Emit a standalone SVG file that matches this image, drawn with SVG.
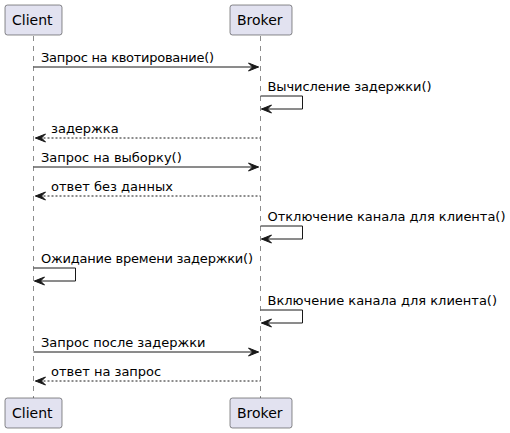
<svg xmlns="http://www.w3.org/2000/svg" width="510" height="433" viewBox="0 0 510 433">
<style>
.box{fill:#E2E2F0;stroke:#181818;stroke-width:0.5}
.life{stroke:#181818;stroke-width:0.5;stroke-dasharray:5,5;fill:none}
.pt{font-family:"DejaVu Sans",sans-serif;font-size:14px;fill:#000}
.mt{font-family:"DejaVu Sans",sans-serif;font-size:13px;fill:#000}
.ln{stroke:#181818;stroke-width:1;fill:none}
.dl{stroke:#181818;stroke-width:1;stroke-dasharray:2,2;fill:none}
.ah{fill:#181818;stroke:#181818;stroke-width:1}
</style>
<rect width="510" height="433" fill="#FFFFFF"/>
<g id="lifelines">
<line class="life" x1="33.5" y1="36" x2="33.5" y2="398"/>
<line class="life" x1="260.5" y1="36" x2="260.5" y2="398"/>
</g>
<g id="client">
<rect class="box" x="5" y="5" width="57" height="30" rx="2.5"/>
<text class="pt" x="12" y="25">Client</text>
<rect class="box" x="5" y="398" width="57" height="30" rx="2.5"/>
<text class="pt" x="12" y="418">Client</text>
</g>
<g id="broker">
<rect class="box" x="230" y="5" width="62" height="30" rx="2.5"/>
<text class="pt" x="237" y="25">Broker</text>
<rect class="box" x="230" y="398" width="62" height="30" rx="2.5"/>
<text class="pt" x="237" y="418">Broker</text>
</g>
<g id="connectors">
<line class="ln" x1="33.5" y1="67" x2="258.5" y2="67"/>
<polygon class="ah" points="248.5,63 258.5,67 248.5,71 252.5,67"/>
<text class="mt" x="41" y="62" textLength="173">Запрос на квотирование()</text>

<polyline class="ln" points="260.5,96 302.5,96 302.5,109 261.5,109"/>
<polygon class="ah" points="271.5,105 261.5,109 271.5,113 267.5,109"/>
<text class="mt" x="267.5" y="91" textLength="164">Вычисление задержки()</text>

<line class="dl" x1="35.5" y1="138" x2="260.5" y2="138"/>
<polygon class="ah" points="45.5,134 35.5,138 45.5,142 41.5,138"/>
<text class="mt" x="51" y="133">задержка</text>

<line class="ln" x1="33.5" y1="167" x2="258.5" y2="167"/>
<polygon class="ah" points="248.5,163 258.5,167 248.5,171 252.5,167"/>
<text class="mt" x="41" y="162">Запрос на выборку()</text>

<line class="dl" x1="35.5" y1="196" x2="260.5" y2="196"/>
<polygon class="ah" points="45.5,192 35.5,196 45.5,200 41.5,196"/>
<text class="mt" x="51" y="191">ответ без данных</text>

<polyline class="ln" points="260.5,226 302.5,226 302.5,239 261.5,239"/>
<polygon class="ah" points="271.5,235 261.5,239 271.5,243 267.5,239"/>
<text class="mt" x="267.5" y="221" textLength="238">Отключение канала для клиента()</text>

<polyline class="ln" points="33.5,268 75.5,268 75.5,281 34.5,281"/>
<polygon class="ah" points="44.5,277 34.5,281 44.5,285 40.5,281"/>
<text class="mt" x="41" y="263" textLength="212">Ожидание времени задержки()</text>

<polyline class="ln" points="260.5,310 302.5,310 302.5,323 261.5,323"/>
<polygon class="ah" points="271.5,319 261.5,323 271.5,327 267.5,323"/>
<text class="mt" x="267.5" y="305">Включение канала для клиента()</text>

<line class="ln" x1="33.5" y1="352" x2="258.5" y2="352"/>
<polygon class="ah" points="248.5,348 258.5,352 248.5,356 252.5,352"/>
<text class="mt" x="41" y="347">Запрос после задержки</text>

<line class="dl" x1="35.5" y1="381" x2="260.5" y2="381"/>
<polygon class="ah" points="45.5,377 35.5,381 45.5,385 41.5,381"/>
<text class="mt" x="51" y="376">ответ на запрос</text>
</g>
</svg>
